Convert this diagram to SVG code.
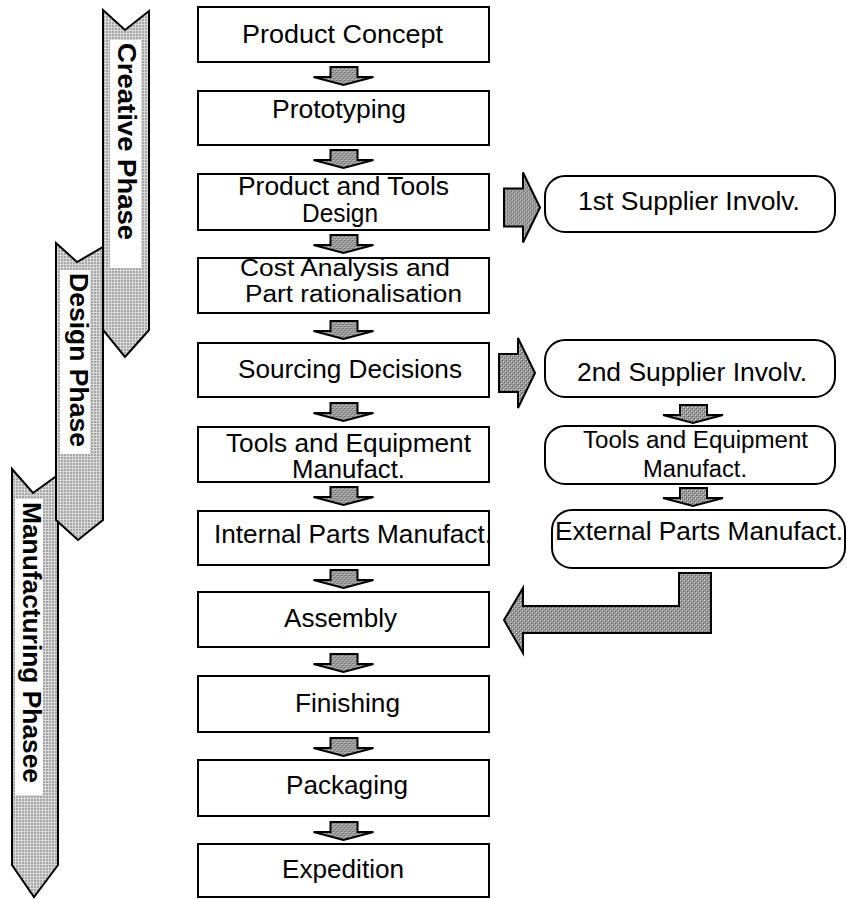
<svg xmlns="http://www.w3.org/2000/svg" width="847" height="899" viewBox="0 0 847 899">
<style>
.box{fill:#fff;stroke:#000;stroke-width:2}
.rbox{fill:#fff;stroke:#000;stroke-width:2}
.t{font-family:"Liberation Sans",Arial,sans-serif;font-size:25px;fill:#000;text-anchor:middle}
.ts{font-family:"Liberation Sans",Arial,sans-serif;font-size:23px;fill:#000;text-anchor:middle}
.pt{font-family:"Liberation Sans",Arial,sans-serif;font-size:26px;font-weight:bold;fill:#000;text-anchor:middle}
.phase{fill:url(#pl);stroke:#000;stroke-width:2;stroke-linejoin:miter}
.lab{fill:#fff}
.arr{fill:url(#pd);stroke:#000;stroke-width:2;stroke-linejoin:miter}
</style>
<defs>
<pattern id="pd" width="4" height="4" patternUnits="userSpaceOnUse">
<rect width="4" height="4" fill="#979797"/>
<rect x="0" y="0" width="1" height="1" fill="#d8d8d8"/>
<rect x="2" y="2" width="1" height="1" fill="#d8d8d8"/>
<rect x="1" y="1" width="1" height="1" fill="#5a5a5a"/>
<rect x="3" y="3" width="1" height="1" fill="#5a5a5a"/>
</pattern>
<pattern id="pl" width="3" height="3" patternUnits="userSpaceOnUse">
<rect width="3" height="3" fill="#a6a6a6"/>
<rect width="3" height="1" fill="#d8d8d8"/>
<rect width="1" height="3" fill="#d8d8d8"/>
</pattern>
<path id="down" d="M-13,0 H14 V10 H30 L0,18 L-30,10 H-13 Z"/>
<path id="right" d="M0,-19 H19 V-35 L36,0 L19,35 V19 H0 Z"/>
</defs>

<g id="phase-manufacturing">
<polygon class="phase" points="12,469 33,493 58,475 58,865 34,897 12,865"/>
<rect class="lab" x="15" y="499" width="28" height="296"/>
<text class="pt" transform="translate(23,642.5) rotate(90)" textLength="281" lengthAdjust="spacingAndGlyphs">Manufacturing Phasee</text>
</g>
<g id="phase-design">
<polygon class="phase" points="56,243 77,262 103,247 103,520 78,540 56,520"/>
<rect class="lab" x="60" y="270" width="30" height="184"/>
<text class="pt" transform="translate(70,360) rotate(90)" textLength="174" lengthAdjust="spacingAndGlyphs">Design Phase</text>
</g>
<g id="phase-creative">
<polygon class="phase" points="103,10 125,30 149,11 149,330 125,357 103,330"/>
<rect class="lab" x="110" y="40" width="31" height="228"/>
<text class="pt" transform="translate(118,141.5) rotate(90)" textLength="197" lengthAdjust="spacingAndGlyphs">Creative Phase</text>
</g>

<g id="connectors">
<use href="#down" class="arr" x="343.5" y="67"/>
<use href="#down" class="arr" x="343.5" y="150"/>
<use href="#down" class="arr" x="343.5" y="235"/>
<use href="#down" class="arr" x="343.5" y="321"/>
<use href="#down" class="arr" x="343.5" y="403"/>
<use href="#down" class="arr" x="343.5" y="487"/>
<use href="#down" class="arr" x="343.5" y="570"/>
<use href="#down" class="arr" x="343.5" y="654"/>
<use href="#down" class="arr" x="343.5" y="738"/>
<use href="#down" class="arr" x="343.5" y="822"/>
<use href="#down" class="arr" x="693" y="405"/>
<use href="#down" class="arr" x="693" y="488"/>
<use href="#right" class="arr" x="504" y="207.5"/>
<use href="#right" class="arr" x="499" y="373"/>
<polygon class="arr" points="711,573 679,573 679,606 523,606 523,588 504,620 523,653 523,633 711,633"/>
</g>

<g id="n-product-concept">
<rect class="box" x="198" y="7" width="291" height="55"/>
<text class="t" x="342.5" y="43" textLength="201" lengthAdjust="spacingAndGlyphs">Product Concept</text>
</g>
<g id="n-prototyping">
<rect class="box" x="198" y="91" width="291" height="54"/>
<text class="t" x="339" y="118" textLength="134" lengthAdjust="spacingAndGlyphs">Prototyping</text>
</g>
<g id="n-product-tools-design">
<rect class="box" x="198" y="174" width="291" height="56"/>
<text class="t" x="343.5" y="195" textLength="211" lengthAdjust="spacingAndGlyphs">Product and Tools</text>
<text class="t" x="340" y="222" textLength="76" lengthAdjust="spacingAndGlyphs">Design</text>
</g>
<g id="n-cost-analysis">
<rect class="box" x="198" y="258" width="291" height="55"/>
<text class="ts" x="345" y="276" textLength="210" lengthAdjust="spacingAndGlyphs">Cost Analysis and</text>
<text class="ts" x="353.5" y="302" textLength="217" lengthAdjust="spacingAndGlyphs">Part rationalisation</text>
</g>
<g id="n-sourcing">
<rect class="box" x="198" y="343" width="291" height="54"/>
<text class="t" x="350" y="378" textLength="224" lengthAdjust="spacingAndGlyphs">Sourcing Decisions</text>
</g>
<g id="n-tools-equipment">
<rect class="box" x="198" y="427" width="291" height="55"/>
<text class="t" x="348.5" y="452" textLength="245" lengthAdjust="spacingAndGlyphs">Tools and Equipment</text>
<text class="t" x="348.5" y="478" textLength="113" lengthAdjust="spacingAndGlyphs">Manufact.</text>
</g>
<g id="n-internal-parts">
<rect class="box" x="198" y="511" width="291" height="54"/>
<text class="t" x="353" y="543" textLength="278" lengthAdjust="spacingAndGlyphs">Internal Parts Manufact.</text>
</g>
<g id="n-assembly">
<rect class="box" x="198" y="592" width="291" height="55"/>
<text class="t" x="340.5" y="627" textLength="113" lengthAdjust="spacingAndGlyphs">Assembly</text>
</g>
<g id="n-finishing">
<rect class="box" x="198" y="676" width="291" height="56"/>
<text class="t" x="347.5" y="712" textLength="105" lengthAdjust="spacingAndGlyphs">Finishing</text>
</g>
<g id="n-packaging">
<rect class="box" x="198" y="760" width="291" height="56"/>
<text class="t" x="347" y="794" textLength="122" lengthAdjust="spacingAndGlyphs">Packaging</text>
</g>
<g id="n-expedition">
<rect class="box" x="198" y="844" width="291" height="53"/>
<text class="t" x="343" y="878" textLength="122" lengthAdjust="spacingAndGlyphs">Expedition</text>
</g>

<g id="n-1st-supplier">
<rect class="rbox" x="545" y="176" width="290" height="56" rx="20" ry="20"/>
<text class="t" x="689" y="210" textLength="222" lengthAdjust="spacingAndGlyphs">1st Supplier Involv.</text>
</g>
<g id="n-2nd-supplier">
<rect class="rbox" x="545" y="340" width="290" height="57" rx="20" ry="20"/>
<text class="t" x="692" y="381" textLength="230" lengthAdjust="spacingAndGlyphs">2nd Supplier Involv.</text>
</g>
<g id="n-ext-tools-equipment">
<rect class="rbox" x="545" y="426" width="290" height="58" rx="20" ry="20"/>
<text class="ts" x="695.5" y="448" textLength="225" lengthAdjust="spacingAndGlyphs">Tools and Equipment</text>
<text class="ts" x="695" y="477" textLength="104" lengthAdjust="spacingAndGlyphs">Manufact.</text>
</g>
<g id="n-external-parts">
<rect class="rbox" x="552" y="510" width="293" height="58" rx="20" ry="20"/>
<text class="t" x="699" y="540" textLength="288" lengthAdjust="spacingAndGlyphs">External Parts Manufact.</text>
</g>
</svg>
